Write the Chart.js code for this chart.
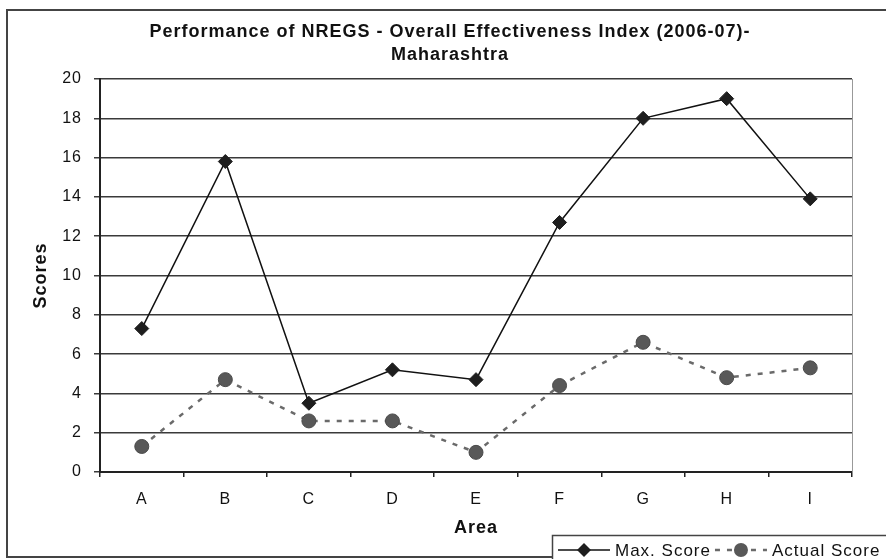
<!DOCTYPE html>
<html>
<head>
<meta charset="utf-8">
<script src="https://cdn.jsdelivr.net/npm/chart.js@4/dist/chart.umd.min.js"></script>
<style>
  html, body { margin: 0; padding: 0; background: #fff; }
  #wrap { width: 886px; height: 559px; position: relative; }
</style>
</head>
<body>
<div id="wrap"><canvas id="chart" width="886" height="559"></canvas></div>
<script>
// ── Data ──────────────────────────────────────────────────────────────────
const areas        = ['A', 'B', 'C', 'D', 'E', 'F', 'G', 'H', 'I'];
const maxScore     = [7.3, 15.8, 3.5, 5.2, 4.7, 12.7, 18.0, 19.0, 13.9];
const actualScore  = [1.3, 4.7, 2.6, 2.6, 1.0, 4.4, 6.6, 4.8, 5.3];
const yTicks       = [0, 2, 4, 6, 8, 10, 12, 14, 16, 18, 20];

const titleLines = ['Performance of NREGS - Overall Effectiveness Index (2006-07)-', 'Maharashtra'];
const FONT = "'Liberation Sans', Arial, sans-serif";

// Loose letter spacing like the original (canvas resets it on resize, so set it each pass)
const spacing = {
    id: 'spacing',
    beforeUpdate(chart) { chart.ctx.letterSpacing = '1px'; },
    beforeDraw(chart)   { chart.ctx.letterSpacing = '1px'; }
};

// Outer frame round the whole chart
const framePlugin = {
    id: 'frame',
    beforeDraw(chart) {
        const c = chart.ctx;
        c.save();
        c.fillStyle = '#fff';
        c.fillRect(0, 0, chart.width, chart.height);
        c.strokeStyle = '#444';
        c.lineWidth = 2;
        c.strokeRect(7, 10, chart.width + 10, 547);
        c.restore();
    }
};

// Right border of the plot area (light grey)
const plotBorder = {
    id: 'plotBorder',
    beforeDatasetsDraw(chart) {
        const a = chart.chartArea, c = chart.ctx;
        c.save();
        c.strokeStyle = '#999';
        c.lineWidth = 1;
        c.beginPath();
        c.moveTo(a.right + 0.5, a.top);
        c.lineTo(a.right + 0.5, a.bottom);
        c.stroke();
        c.restore();
    }
};

// Boxed legend at the bottom right, line + marker per series
const boxLegend = {
    id: 'boxLegend',
    afterDraw(chart) {
        const c = chart.ctx;
        const ds = chart.data.datasets;
        c.save();
        c.fillStyle = '#fff';
        c.fillRect(552, 535, 340, 30);
        c.strokeStyle = '#444';
        c.lineWidth = 1.5;
        c.strokeRect(552.5, 535.5, 340, 30);
        c.font = '17px ' + FONT;
        c.textBaseline = 'middle';
        let x = 558;
        const y = 550;
        const seg = 52;
        ds.forEach(d => {
            c.strokeStyle = d.borderColor;
            c.lineWidth = d.borderWidth;
            c.setLineDash(d.borderDash || []);
            c.beginPath();
            c.moveTo(x, y);
            c.lineTo(x + seg, y);
            c.stroke();
            c.setLineDash([]);
            c.fillStyle = d.pointBackgroundColor;
            c.beginPath();
            const mx = x + seg / 2;
            if (d.pointStyle === 'rectRot') {
                const r = 7;
                c.moveTo(mx, y - r); c.lineTo(mx + r, y);
                c.lineTo(mx, y + r); c.lineTo(mx - r, y);
                c.closePath();
            } else {
                c.arc(mx, y, 7, 0, Math.PI * 2);
            }
            c.fill();
            c.fillStyle = '#111';
            c.fillText(d.label, x + seg + 5, y + 1);
            x += seg + 5 + c.measureText(d.label).width + 4;
        });
        c.restore();
    }
};

const ctx = document.getElementById('chart').getContext('2d');
const chart = new Chart(ctx, {
    type: 'line',
    data: {
        labels: areas,
        datasets: [
            { label: 'Max. Score', data: maxScore, borderColor: '#111', borderWidth: 1.5,
              pointStyle: 'rectRot', pointRadius: 7, pointBackgroundColor: '#1e1e1e', pointBorderColor: '#1e1e1e',
              pointBorderWidth: 1, tension: 0, fill: false },
            { label: 'Actual Score', data: actualScore, borderColor: '#6a6a6a', borderWidth: 2.5, borderDash: [5, 7],
              pointStyle: 'circle', pointRadius: 7, pointBackgroundColor: '#585858', pointBorderColor: '#4a4a4a',
              pointBorderWidth: 1, tension: 0, fill: false }
        ]
    },
    plugins: [spacing, framePlugin, plotBorder, boxLegend],
    options: {
        responsive: false,
        animation: false,
        devicePixelRatio: 1,
        // left padding shifts the centred title right, as in the original
        layout: { padding: { left: 48, right: 34, top: 0, bottom: 0 } },
        plugins: {
            legend: { display: false },
            tooltip: { enabled: false },
            title: {
                display: true,
                text: titleLines,
                color: '#111',
                font: { family: FONT, size: 18, weight: 'bold', lineHeight: 1.25 },
                padding: { top: 21, bottom: 13 }
            }
        },
        scales: {
            x: {
                offset: true,
                afterFit: s => { s.height = 87; },
                grid: { display: true, drawOnChartArea: false, offset: true, color: '#222', lineWidth: 1.5, tickLength: 5 },
                border: { display: true, color: '#222', width: 2 },
                ticks: { color: '#111', font: { family: FONT, size: 16 }, padding: 13 },
                title: { display: true, text: 'Area', color: '#111', font: { family: FONT, size: 18, weight: 'bold' },
                         padding: { top: 0, bottom: 20 } }
            },
            y: {
                min: 0, max: 20,
                afterFit: s => { s.width = 52; },
                afterBuildTicks: s => { s.ticks = yTicks.map(v => ({ value: v })); },
                grid: { color: '#3a3a3a', lineWidth: 1.5, tickLength: 6 },
                border: { display: true, color: '#222', width: 2 },
                ticks: { color: '#111', font: { family: FONT, size: 16 }, padding: 12 },
                title: { display: true, text: 'Scores', color: '#111', font: { family: FONT, size: 18, weight: 'bold' },
                         padding: { top: -18, bottom: 0 } }
            }
        }
    }
});
</script>
</body>
</html>
